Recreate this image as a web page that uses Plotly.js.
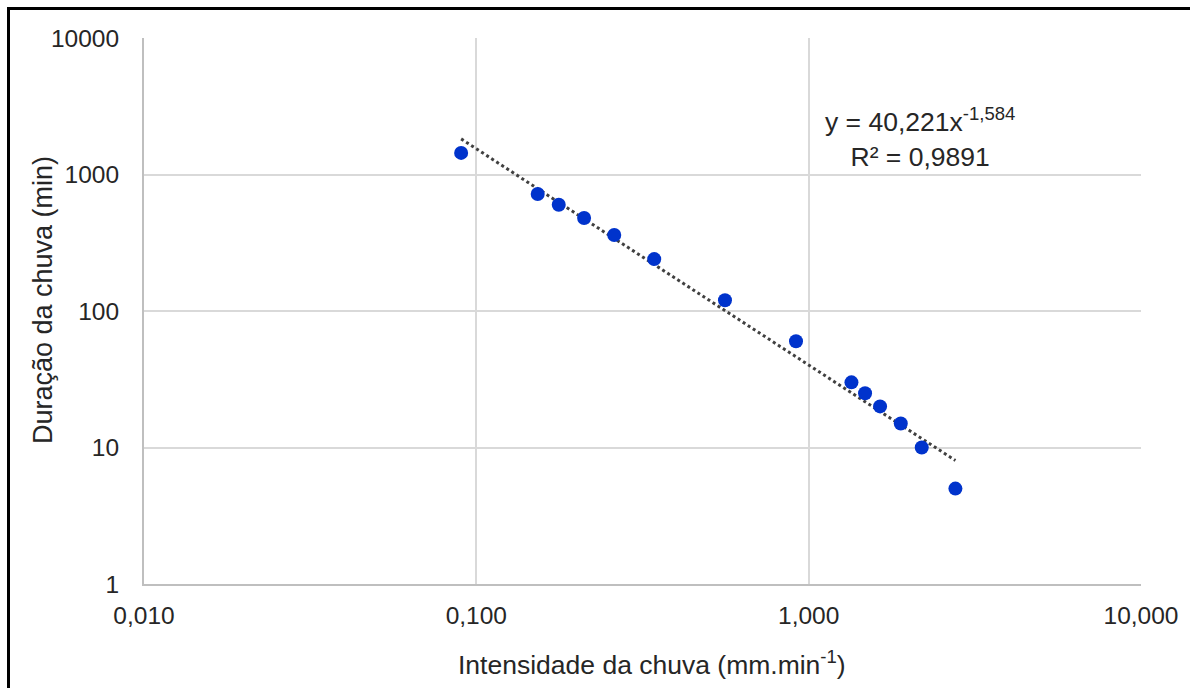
<!DOCTYPE html>
<html>
<head>
<meta charset="utf-8">
<script src="https://cdn.plot.ly/plotly-3.0.1.min.js"></script>
<style>
  html, body { margin: 0; padding: 0; background: #fff; }
  #wrap { position: relative; width: 1190px; height: 688px; overflow: hidden; }
  #chart { position: absolute; left: 0; top: 0; width: 1190px; height: 688px; }
  #frame { position: absolute; left: 7px; top: 7px; width: 1300px; height: 800px;
           border-left: 3px solid #000; border-top: 3px solid #000; pointer-events: none; }
</style>
</head>
<body>
<div id="wrap">
  <div id="chart"></div>
  <div id="frame"></div>
</div>
<script>
// Data
const intensidade = [0.090, 0.153, 0.177, 0.211, 0.260, 0.343, 0.560, 0.916, 1.345, 1.478, 1.640, 1.893, 2.189, 2.764];
const duracao     = [1440, 720, 600, 480, 360, 240, 120, 60, 30, 25, 20, 15, 10, 5];

// Power trendline shown on the chart: y = a * x^b
const trendA = 40.221;
const trendB = -1.584;
const trendR2Text = "0,9891";

const xTickVals = [0.01, 0.1, 1, 10];
const xTickText = ["0,010", "0,100", "1,000", "10,000"];
const yTickVals = [1, 10, 100, 1000, 10000];
const yTickText = ["1", "10", "100", "1000", "10000"];

const xTitle = "Intensidade da chuva (mm.min<sup>-1</sup>)";
const yTitle = "Duração da chuva (min)";

const xMin = Math.min(...intensidade), xMax = Math.max(...intensidade);
const trendX = [xMin, xMax];
const trendY = trendX.map(x => trendA * Math.pow(x, trendB));

const txtColor = "#262626";
const font = "Liberation Sans, Arial, sans-serif";

const traces = [
  {
    x: trendX, y: trendY, type: "scatter", mode: "lines",
    line: { color: "#404040", width: 3, dash: "dot" },
    hoverinfo: "skip", showlegend: false
  },
  {
    x: intensidade, y: duracao, type: "scatter", mode: "markers",
    marker: { color: "#0033CC", size: 14 },
    showlegend: false
  }
];

const layout = {
  width: 1190, height: 688,
  margin: { l: 144, r: 49, t: 38, b: 104 },
  paper_bgcolor: "#fff", plot_bgcolor: "#fff",
  font: { family: font, color: txtColor, size: 22 },
  showlegend: false,
  xaxis: {
    type: "log", range: [-2, 1],
    tickvals: xTickVals, ticktext: xTickText,
    showgrid: true, gridcolor: "#d9d9d9", gridwidth: 2,
    showline: true, linecolor: "#bfbfbf", linewidth: 2,
    ticks: "", zeroline: false,
    tickfont: { size: 24.5, color: txtColor, family: font },
    ticklabelstandoff: 9
  },
  yaxis: {
    type: "log", range: [0, 4],
    tickvals: yTickVals, ticktext: yTickText,
    showgrid: true, gridcolor: "#d9d9d9", gridwidth: 2,
    showline: true, linecolor: "#bfbfbf", linewidth: 2,
    ticks: "", zeroline: false,
    tickfont: { size: 24.5, color: txtColor, family: font },
    ticklabelstandoff: 18
  },
  annotations: [
    {
      xref: "paper", yref: "paper", x: 0.5095, y: -0.1447,
      xanchor: "center", yanchor: "middle", showarrow: false,
      text: xTitle, font: { size: 26.5, color: txtColor, family: font }
    },
    {
      xref: "paper", yref: "paper", x: -0.1013, y: 0.520,
      xanchor: "center", yanchor: "middle", showarrow: false, textangle: -90,
      text: yTitle, font: { size: 27, color: txtColor, family: font }
    },
    {
      xref: "paper", yref: "paper", x: 0.778, y: 0.817,
      xanchor: "center", yanchor: "middle", align: "center",
      showarrow: false,
      text: "y = " + trendA.toFixed(3).replace(".", ",") + "x<sup>" + trendB.toFixed(3).replace(".", ",") + "</sup><br>R² = " + trendR2Text,
      font: { size: 26.5, color: txtColor, family: font }
    }
  ]
};

Plotly.newPlot("chart", traces, layout, { displayModeBar: false, staticPlot: true });
</script>
</body>
</html>
